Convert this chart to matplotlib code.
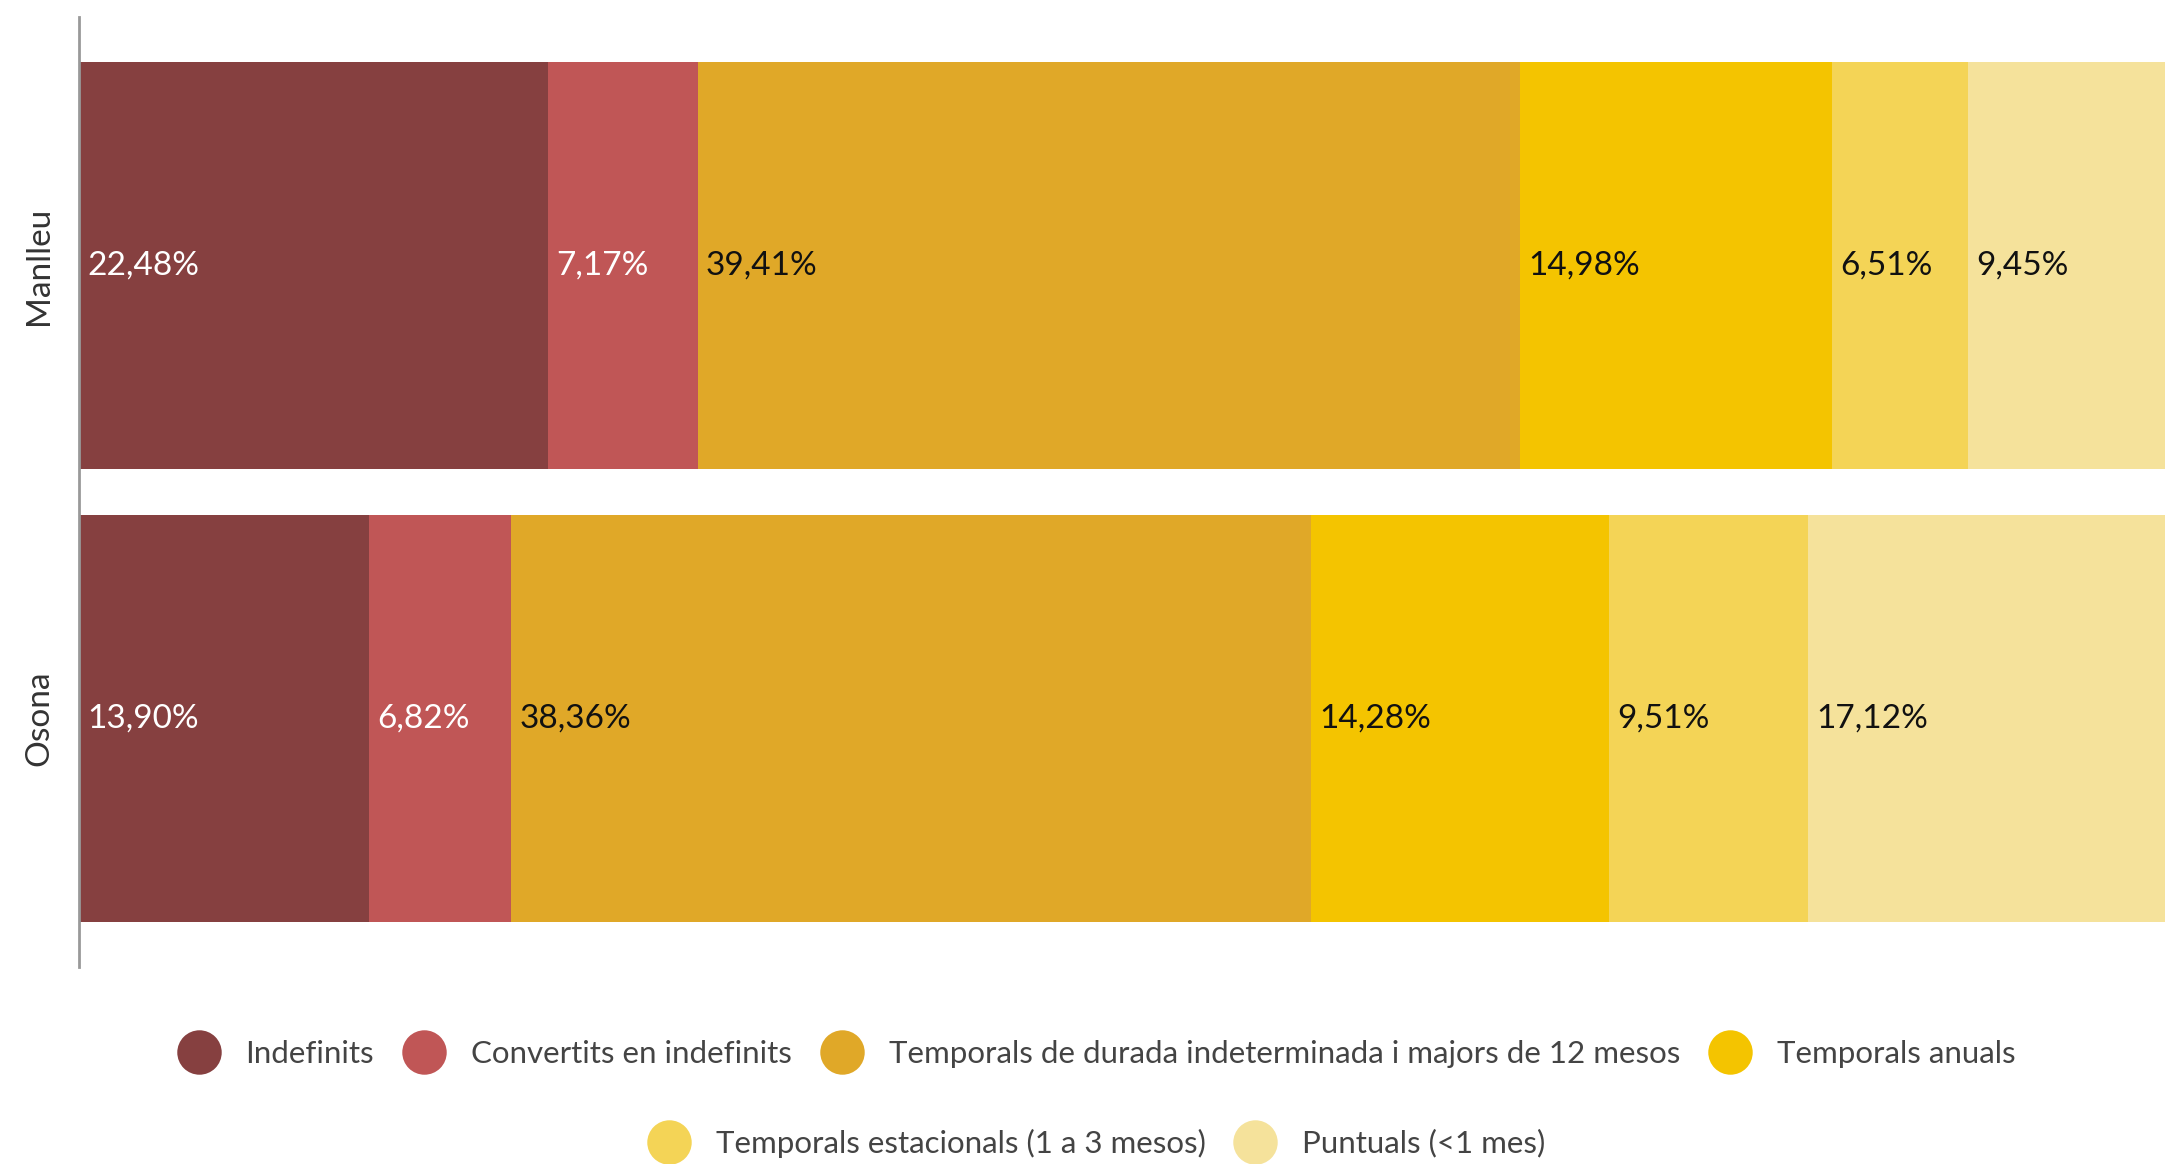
import matplotlib
matplotlib.use("Agg")
import matplotlib.pyplot as plt
from matplotlib.lines import Line2D

# ---------- data ----------
places = ["Manlleu", "Osona"]
categories = [
    "Indefinits",
    "Convertits en indefinits",
    "Temporals de durada indeterminada i majors de 12 mesos",
    "Temporals anuals",
    "Temporals estacionals (1 a 3 mesos)",
    "Puntuals (<1 mes)",
]
manlleu = [22.48, 7.17, 39.41, 14.98, 6.51, 9.45]
osona = [13.90, 6.82, 38.36, 14.28, 9.51, 17.12]
values = [manlleu, osona]

colors = ["#864040", "#C05656", "#E0A828", "#F4C400", "#F4D456", "#F5E29B"]
label_colors = ["white", "white", "#111111", "#111111", "#111111", "#111111"]

plt.rcParams["font.family"] = ["Lato", "DejaVu Sans"]

fig = plt.figure(figsize=(21.83, 11.64), dpi=100)
ax = fig.add_axes([0.0362, 0.1692, 0.9556, 0.8162])

ypos = [1, 0]
for yi, row in zip(ypos, values):
    left = 0.0
    for i, v in enumerate(row):
        ax.barh(yi, v, left=left, height=0.9, color=colors[i], edgecolor="none")
        ax.annotate(f"{v:.2f}%".replace(".", ","), xy=(left, yi),
                    xytext=(6, 0), textcoords="offset points",
                    ha="left", va="center", fontsize=24, color=label_colors[i])
        left += v

ax.set_xlim(0, 100)
ax.set_ylim(-0.55, 1.55)
ax.set_yticks(ypos)
ax.set_yticklabels(places, rotation=90, va="center", fontsize=24, color="#333333")
ax.tick_params(axis="y", length=0, pad=18)
ax.set_xticks([])
for s in ["top", "right", "bottom"]:
    ax.spines[s].set_visible(False)
ax.spines["left"].set_color("#999999")
ax.spines["left"].set_linewidth(2)

handles = [Line2D([0], [0], marker="o", ls="none", markersize=32,
                  markerfacecolor=c, markeredgecolor="none") for c in colors]
leg_kw = dict(frameon=False, fontsize=22.5, labelcolor="#444444",
              handletextpad=0.5, columnspacing=0.6, loc="center")
fig.legend(handles[:4], categories[:4], ncol=4,
           bbox_to_anchor=(0.5, 1 - 1054 / 1164), **leg_kw)
fig.legend(handles[4:], categories[4:], ncol=2,
           bbox_to_anchor=(0.5, 1 - 1143 / 1164), **leg_kw)

fig.savefig("out.png", dpi=100)
